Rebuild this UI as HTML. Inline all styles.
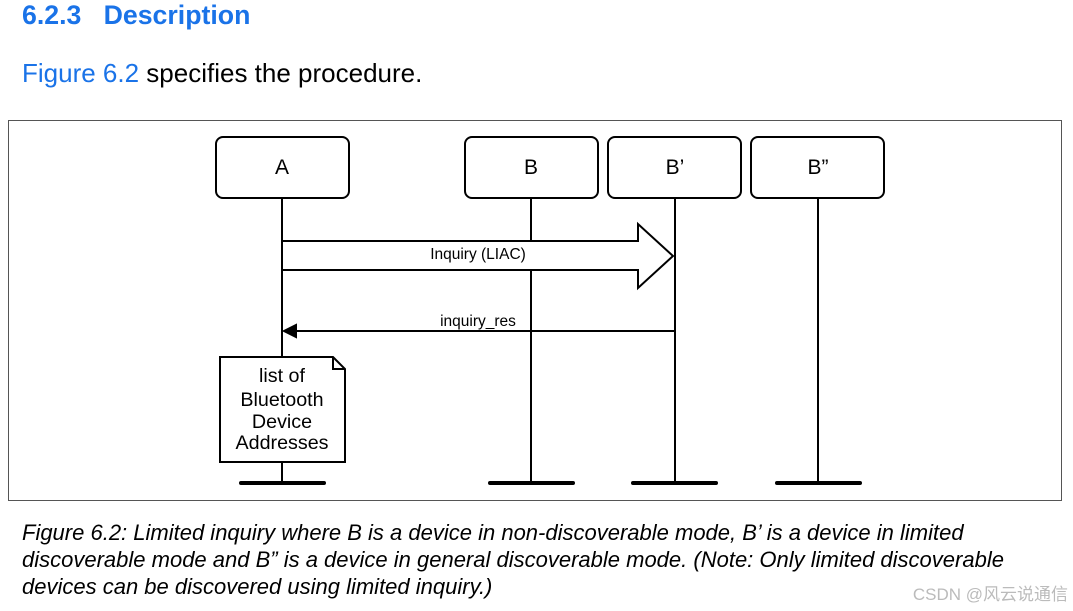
<!DOCTYPE html>
<html><head><meta charset="utf-8"><style>
body{margin:0;width:1073px;height:611px;background:#fff;overflow:hidden;position:relative;font-family:"Liberation Sans",Arial,sans-serif}
.a{position:absolute;white-space:nowrap}
</style></head><body>
<div class="a" style="left:22px;top:-1px;font-size:26.7px;font-weight:bold;color:#1a73e8;line-height:32px">6.2.3&nbsp;&nbsp;&nbsp;Description</div>
<div class="a" style="left:22px;top:57px;font-size:26px;line-height:32px;color:#000"><span style="color:#1a73e8">Figure 6.2</span> specifies the procedure.</div>
<svg class="a" style="left:0;top:0" width="1073" height="611" font-family="Liberation Sans, Arial, sans-serif">
<rect x="8.5" y="120.5" width="1053" height="380" fill="none" stroke="#555" stroke-width="1"/>
<g stroke="#000" stroke-width="2" fill="#fff">
<line x1="282" y1="198" x2="282" y2="483"/>
<line x1="531" y1="198" x2="531" y2="483"/>
<line x1="675" y1="198" x2="675" y2="483"/>
<line x1="818" y1="198" x2="818" y2="483"/>
<rect x="216" y="137" width="133" height="61" rx="7"/>
<rect x="465" y="137" width="133" height="61" rx="7"/>
<rect x="608" y="137" width="133" height="61" rx="7"/>
<rect x="751" y="137" width="133" height="61" rx="7"/>
<polygon points="282,241 638,241 638,224 673,256 638,288 638,270 282,270"/>
<line x1="675" y1="331" x2="292" y2="331"/>
<polygon points="284,331 296,325 296,337" fill="#000"/>
<polygon points="220,357 333,357 345,369 345,462 220,462"/>
<polyline points="333,357 333,369 345,369" fill="none"/>
</g>
<g stroke="#000" stroke-width="4" stroke-linecap="round">
<line x1="241" y1="483" x2="324" y2="483"/>
<line x1="490" y1="483" x2="573" y2="483"/>
<line x1="633" y1="483" x2="716" y2="483"/>
<line x1="777" y1="483" x2="860" y2="483"/>
</g>
<g font-size="21" text-anchor="middle" fill="#000">
<text x="282" y="174">A</text>
<text x="531" y="174">B</text>
<text x="675" y="174">B’</text>
<text x="818" y="174">B”</text>
</g>
<g font-size="15.5" text-anchor="middle" fill="#000">
<text x="478" y="259">Inquiry (LIAC)</text>
<text x="478" y="326">inquiry_res</text>
</g>
<g font-size="19.7" text-anchor="middle" fill="#000">
<text x="282" y="382">list of</text>
<text x="282" y="406">Bluetooth</text>
<text x="282" y="428">Device</text>
<text x="282" y="449">Addresses</text>
</g>
<g font-size="22" font-style="italic" fill="#000">
<text x="22" y="540">Figure 6.2: Limited inquiry where B is a device in non-discoverable mode, B’ is a device in limited</text>
<text x="22" y="567">discoverable mode and B” is a device in general discoverable mode. (Note: Only limited discoverable</text>
<text x="22" y="594">devices can be discovered using limited inquiry.)</text>
</g>
<text x="1068" y="600" font-size="17" text-anchor="end" fill="#bbb" font-family="Liberation Sans, Noto Sans CJK SC, sans-serif">CSDN @风云说通信</text>
</svg>
</body></html>
